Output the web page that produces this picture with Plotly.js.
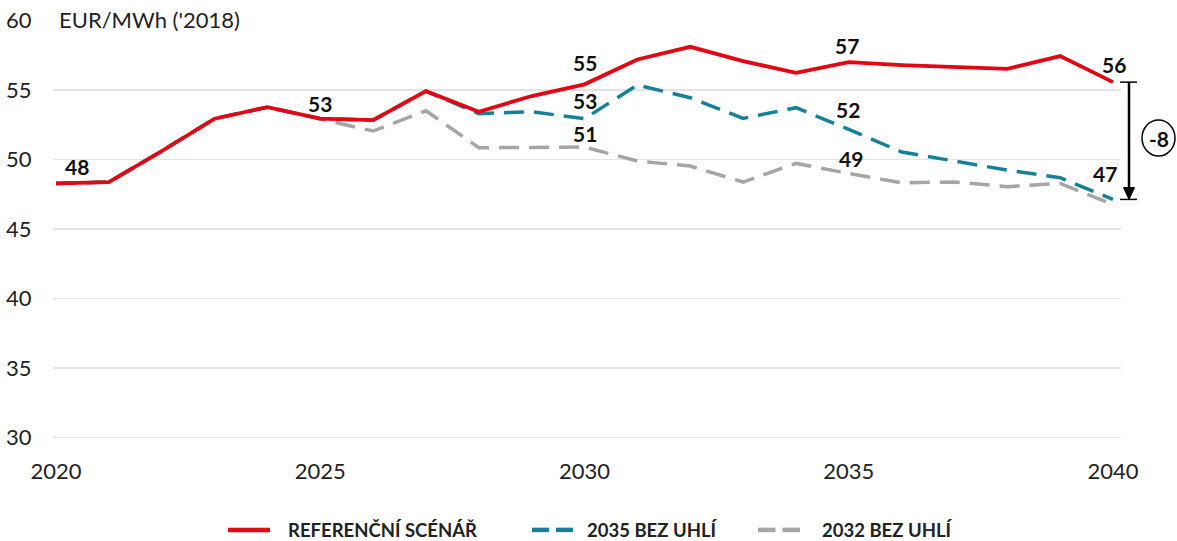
<!DOCTYPE html>
<html>
<head>
<meta charset="utf-8">
<script src="https://cdn.plot.ly/plotly-3.0.1.min.js"></script>
<style>html,body{margin:0;padding:0;background:#fff;}#chart{width:1177px;height:541px;}</style>
</head>
<body>
<div id="chart"></div>
<script>
const years = [2020,2021,2022,2023,2024,2025,2026,2027,2028,2029,2030,2031,2032,2033,2034,2035,2036,2037,2038,2039,2040];
const referencni = [48.27,48.37,50.6,52.93,53.76,52.93,52.83,54.91,53.43,54.56,55.40,57.19,58.10,57.07,56.23,57.00,56.79,56.64,56.52,57.43,55.56];
const bezUhli2035 = [48.27,48.37,50.6,52.93,53.76,52.93,52.83,54.91,53.29,53.43,52.93,55.35,54.44,52.95,53.72,52.16,50.53,49.88,49.23,48.68,47.12];
const bezUhli2032 = [48.27,48.37,50.6,52.93,53.76,52.93,52.04,53.50,50.84,50.86,50.89,49.88,49.52,48.37,49.71,48.99,48.32,48.37,48.04,48.27,46.75];
const seriesNames = ['REFERENČNÍ SCÉNÁŘ','2035 BEZ UHLÍ','2032 BEZ UHLÍ'];
const yTicks = [30,35,40,45,50,55,60];
const xTicks = [2020,2025,2030,2035,2040];
const unitLabel = "EUR/MWh ('2018)";

const RED = '#e30613', TEAL = '#16809c', GREY = '#a5a5a5';
const COLORS = [RED, TEAL, GREY];
const DASHES = ['solid', '20px,10px', '20px,10px'];
const FONT = 'Lato, "Open Sans", sans-serif';

const traces = [
  {x: years, y: bezUhli2032, name: seriesNames[2], type:'scatter', mode:'lines', line:{color:GREY, width:3.5, dash:DASHES[2]}, showlegend:false},
  {x: years, y: bezUhli2035, name: seriesNames[1], type:'scatter', mode:'lines', line:{color:TEAL, width:3.5, dash:DASHES[1]}, showlegend:false},
  {x: years, y: referencni, name: seriesNames[0], type:'scatter', mode:'lines', line:{color:RED, width:3.8, dash:DASHES[0]}, showlegend:false}
];

function idx(y){ return years.indexOf(y); }
// value labels: [series array, year, xshift, yshift]
const labelSpecs = [
  [referencni, 2020, 21, 17],
  [referencni, 2025, 0, 15],
  [referencni, 2030, 0, 22],
  [bezUhli2035, 2030, 0, 18],
  [bezUhli2032, 2030, 0, 14],
  [referencni, 2035, -2, 17],
  [bezUhli2035, 2035, -1, 20],
  [bezUhli2032, 2035, 2, 15],
  [referencni, 2040, 1, 18],
  [bezUhli2035, 2040, -8, 26]
];
const annotations = labelSpecs.map(s => ({
  x: s[1], y: s[0][idx(s[1])], xref:'x', yref:'y', xanchor:'center', yanchor:'middle',
  text: String(Math.round(s[0][idx(s[1])])),
  showarrow:false, xshift:s[2], yshift:s[3],
  font:{family:FONT, size:21, color:'#111', weight:700}
}));

const W = 1177, H = 541, PL = 53, PW = 1068, PT = 20;
const Y0 = 29.88, Y1 = 60.03, PXU = 13.9;
const PH = (Y1 - Y0) * PXU;
const px = p => (p - PL) / PW;
const py = p => (PT + PH - p) / PH;
const refEnd = referencni[referencni.length-1];
const b35End = bezUhli2035[bezUhli2035.length-1];
const diff = Math.round(b35End - refEnd);

annotations.push({
  x: 0, xref:'paper', xanchor:'left', xshift:4, y: 60, yref:'y', yanchor:'middle', yshift:1,
  text: unitLabel, showarrow:false, bgcolor:'#fff',
  font:{family:FONT, size:22, color:'#222'}
});
annotations.push({
  x: px(1159), xref:'paper', xanchor:'center', y: py(139), yref:'paper', yanchor:'middle',
  text: String(diff), showarrow:false,
  font:{family:FONT, size:21, color:'#111', weight:700}
});

const shapes = [
  // white mask hiding the 60 gridline behind the unit label
  {type:'rect', xref:'paper', yref:'y', x0:0, x1:px(293), y0:59.6, y1:60.4, fillcolor:'#fff', line:{width:0}, layer:'above'},
  // difference bracket
  {type:'line', xref:'paper', yref:'y', x0:px(1120), x1:px(1137), y0:refEnd, y1:refEnd, line:{color:'#000', width:1.5}},
  {type:'line', xref:'paper', yref:'y', x0:px(1120), x1:px(1137), y0:b35End, y1:b35End, line:{color:'#000', width:1.5}},
  {type:'line', xref:'paper', yref:'y', x0:px(1129), x1:px(1129), y0:refEnd, y1:b35End + 0.6, line:{color:'#000', width:2.5}},
  {type:'path', xref:'paper', yref:'y', path:`M ${px(1123.5)} ${b35End+0.85} L ${px(1134.5)} ${b35End+0.85} L ${px(1129)} ${b35End} Z`, fillcolor:'#000', line:{color:'#000', width:1}},
  {type:'circle', xref:'paper', yref:'paper', x0:px(1142), x1:px(1175), y0:py(156), y1:py(120), line:{color:'#000', width:1.5}, fillcolor:'rgba(0,0,0,0)'}
];

// manual legend (spacing as in the reference)
const legendY = py(530);
const legendItems = [
  {x0:228, x1:270, tx:286},
  {x0:532, x1:573, tx:585},
  {x0:758, x1:800, tx:820}
];
legendItems.forEach((it, i) => {
  if (DASHES[i] === 'solid') {
    shapes.push({type:'line', xref:'paper', yref:'paper', x0:px(it.x0), x1:px(it.x1), y0:legendY, y1:legendY, line:{color:COLORS[i], width:4.5}});
  } else {
    const mid = (it.x0 + it.x1) / 2;
    shapes.push({type:'line', xref:'paper', yref:'paper', x0:px(it.x0), x1:px(mid-3.5), y0:legendY, y1:legendY, line:{color:COLORS[i], width:4.5}});
    shapes.push({type:'line', xref:'paper', yref:'paper', x0:px(mid+3.5), x1:px(it.x1), y0:legendY, y1:legendY, line:{color:COLORS[i], width:4.5}});
  }
  annotations.push({x:px(it.tx), xref:'paper', xanchor:'left', y:legendY, yref:'paper', yanchor:'middle',
    text: seriesNames[i], showarrow:false, font:{family:FONT, size:18.5, color:'#222', weight:700}});
});

const layout = {
  width:W, height:H,
  margin:{l:PL, r:W-PL-PW, t:PT, b:H-PT-PH, autoexpand:false},
  paper_bgcolor:'#fff', plot_bgcolor:'#fff',
  font:{family:FONT, size:22, color:'#222'},
  showlegend:false,
  xaxis:{range:[2019.943, 2040.151], tickvals:xTicks, ticktext:xTicks.map(String), showgrid:false, zeroline:false, showline:false,
         ticks:'outside', ticklen:13, tickcolor:'rgba(0,0,0,0)', tickfont:{family:FONT, size:22, color:'#222'}, fixedrange:true},
  yaxis:{range:[Y0, Y1], tickvals:yTicks, ticktext:yTicks.map(String), showgrid:true, gridcolor:'#e3e3e3', gridwidth:1.3,
         zeroline:false, showline:false, ticks:'outside', ticklen:16, tickcolor:'rgba(0,0,0,0)',
         tickfont:{family:FONT, size:22, color:'#222'}, fixedrange:true},
  annotations: annotations,
  shapes: shapes
};

Plotly.newPlot('chart', traces, layout, {displayModeBar:false, staticPlot:true});
</script>
</body>
</html>
